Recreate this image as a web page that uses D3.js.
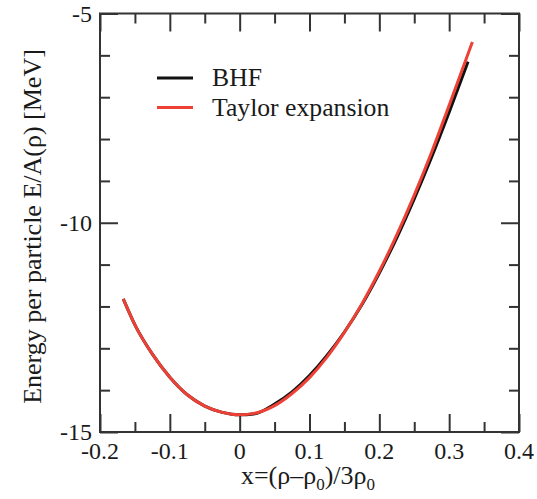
<!DOCTYPE html>
<html><head><meta charset="utf-8">
<script src="https://cdn.jsdelivr.net/npm/d3@7"></script>
<style>
html,body{margin:0;padding:0;background:#fff;}
svg text{font-family:"Liberation Serif","Times New Roman",Times,"DejaVu Serif",serif;}
</style></head>
<body><svg id="c" width="537" height="499"></svg>
<script>
// Data
const seriesNames = ["BHF", "Taylor expansion"];
const bhfX = [-0.1667,-0.15,-0.125,-0.1,-0.075,-0.05,-0.025,0,0.02,0.05,0.075,0.1,0.125,0.15,0.175,0.2,0.225,0.25,0.275,0.3,0.327];
const bhfE = [-11.82,-12.44,-13.14,-13.69,-14.11,-14.38,-14.53,-14.59,-14.57,-14.33,-14.04,-13.65,-13.17,-12.61,-11.96,-11.20,-10.36,-9.43,-8.43,-7.36,-6.15];
const taylorX = [-0.1667,-0.15,-0.125,-0.1,-0.075,-0.05,-0.025,0,0.025,0.05,0.075,0.1,0.125,0.15,0.175,0.2,0.225,0.25,0.275,0.3,0.3333];
const taylorE = [-11.82,-12.44,-13.14,-13.69,-14.11,-14.38,-14.53,-14.59,-14.54,-14.37,-14.08,-13.70,-13.21,-12.62,-11.94,-11.16,-10.29,-9.34,-8.31,-7.19,-5.68];
const xMajor = [-0.2,-0.1,0,0.1,0.2,0.3,0.4];
const xMajorLabels = ["-0.2","-0.1","0","0.1","0.2","0.3","0.4"];
const xMinor = [-0.15,-0.05,0.05,0.15,0.25,0.35];
const yMajor = [-15,-10,-5];
const yMajorLabels = ["-15","-10","-5"];
const yMinor = [-14,-13,-12,-11,-9,-8,-7,-6];
const colors = ["#111111","#ee4136"];
const FONT = '"Liberation Serif","Times New Roman",Times,"DejaVu Serif",serif';

const svg = d3.select("#c");
const L=100, R=519, T=13.5, B=432;
const x = d3.scaleLinear().domain([-0.2,0.4]).range([L,R]);
const y = d3.scaleLinear().domain([-15,-5]).range([B,T]);

function styleAxis(g){
  g.select(".domain").remove();
  g.selectAll(".tick line").attr("stroke","#333").attr("stroke-width",2);
}
const axes = [
  [d3.axisBottom(x).tickValues(xMajor).tickSize(-18).tickFormat(""), `translate(0,${B})`],
  [d3.axisBottom(x).tickValues(xMinor).tickSize(-10).tickFormat(""), `translate(0,${B})`],
  [d3.axisTop(x).tickValues(xMajor).tickSize(-18).tickFormat(""), `translate(0,${T})`],
  [d3.axisTop(x).tickValues(xMinor).tickSize(-10).tickFormat(""), `translate(0,${T})`],
  [d3.axisLeft(y).tickValues(yMajor).tickSize(-18).tickFormat(""), `translate(${L},0)`],
  [d3.axisLeft(y).tickValues(yMinor).tickSize(-10).tickFormat(""), `translate(${L},0)`],
  [d3.axisRight(y).tickValues(yMajor).tickSize(-18).tickFormat(""), `translate(${R},0)`],
  [d3.axisRight(y).tickValues(yMinor).tickSize(-10).tickFormat(""), `translate(${R},0)`]
];
axes.forEach(([ax,tr])=>{ svg.append("g").attr("transform",tr).call(ax).call(styleAxis); });

svg.append("rect").attr("x",L).attr("y",T).attr("width",R-L).attr("height",B-T)
  .attr("fill","none").attr("stroke","#333").attr("stroke-width",2);

svg.append("g").selectAll("text").data(xMajor).join("text")
  .attr("x",d=>x(d)).attr("y",B+27).attr("text-anchor","middle").attr("font-family",FONT)
  .attr("font-size",24).attr("fill","#1a1a1a").text((d,i)=>xMajorLabels[i]);
svg.append("g").selectAll("text").data(yMajor).join("text")
  .attr("x",L-8).attr("y",d=>y(d)+8).attr("text-anchor","end").attr("font-family",FONT)
  .attr("font-size",24).attr("fill","#1a1a1a").text((d,i)=>yMajorLabels[i]);

const line = d3.line().x(d=>x(d[0])).y(d=>y(d[1])).curve(d3.curveMonotoneX);
const bhf = bhfX.map((v,i)=>[v,bhfE[i]]);
const tay = taylorX.map((v,i)=>[v,taylorE[i]]);
svg.append("path").datum(bhf).attr("d",line).attr("fill","none").attr("stroke",colors[0]).attr("stroke-width",3);
svg.append("path").datum(tay).attr("d",line).attr("fill","none").attr("stroke",colors[1]).attr("stroke-width",3);

const leg = svg.append("g");
seriesNames.forEach((n,i)=>{
  const yy = 78 + i*29.5;
  leg.append("line").attr("x1",157).attr("x2",193).attr("y1",yy).attr("y2",yy)
    .attr("stroke",colors[i]).attr("stroke-width",3);
  leg.append("text").attr("x",212).attr("y",yy+8).attr("font-family",FONT)
    .attr("font-size",25.7).attr("fill","#1a1a1a").text(n);
});

const xt = svg.append("text").attr("x",308).attr("y",484).attr("text-anchor","middle")
  .attr("font-family",FONT).attr("font-size",26).attr("fill","#1a1a1a");
xt.append("tspan").text("x=(ρ–ρ");
xt.append("tspan").attr("font-size",17).attr("dy",6).text("0");
xt.append("tspan").attr("dy",-6).text(")/3ρ");
xt.append("tspan").attr("font-size",17).attr("dy",6).text("0");

svg.append("text").attr("transform","translate(41,226.5) rotate(-90)")
  .attr("text-anchor","middle").attr("font-family",FONT).attr("font-size",26).attr("fill","#1a1a1a")
  .text("Energy per particle E/A(ρ) [MeV]");
</script></body></html>
